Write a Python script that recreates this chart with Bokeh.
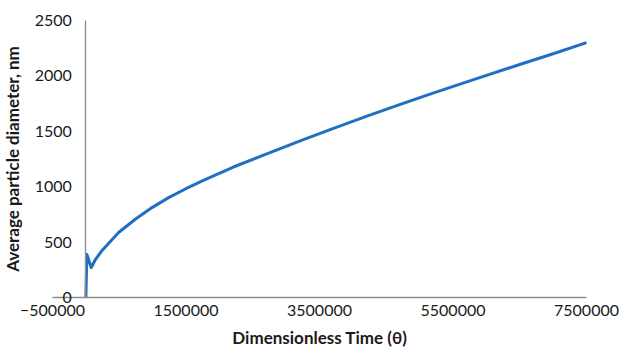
from bokeh.plotting import figure
from bokeh.models import Range1d, FixedTicker, BasicTickFormatter
from bokeh.embed import file_html
from bokeh.resources import INLINE

# Data
theta = [0, 15000, 80000, 150000, 240000, 490000, 740000, 990000, 1240000,
         1490000, 1760000, 2210000, 2710000, 3210000, 3710000, 4210000,
         4710000, 5200000, 5910000, 6500000, 7000000, 7500000]
diameter = [0, 390, 272, 350, 423, 587, 707, 812, 902,
            980, 1058, 1178, 1296, 1414, 1527, 1637,
            1743, 1844, 1987, 2103, 2200, 2300]
x_ticks = [-500000, 1500000, 3500000, 5500000, 7500000]
y_ticks = [0, 500, 1000, 1500, 2000, 2500]

p = figure(width=620, height=349, output_backend="svg", toolbar_location=None,
           x_range=Range1d(-1279000, 8009000), y_range=Range1d(-468, 2680),
           min_border_left=0, min_border_right=0, min_border_top=0,
           min_border_bottom=0)
p.outline_line_color = None
p.xgrid.visible = False
p.ygrid.visible = False
p.background_fill_color = "white"

p.line(theta, diameter, line_color="#1F70C1", line_width=3, line_join="round")

font = "Lato"
ax = p.xaxis[0]
ax.fixed_location = 0
ax.bounds = (-500000, 7500000)
ax.ticker = FixedTicker(ticks=x_ticks)
ax.formatter = BasicTickFormatter(use_scientific=False)
ax.axis_label = "Dimensionless Time (θ)"
ax.axis_label_text_font = font
ax.axis_label_text_font_style = "bold"
ax.axis_label_text_font_size = "17px"
ax.axis_label_text_color = "#1a1a1a"
ax.axis_label_standoff = 8
ax.major_label_text_font = font
ax.major_label_text_font_size = "16px"
ax.major_label_text_color = "#1a1a1a"
ax.major_label_standoff = 7
ax.major_tick_out = 0
ax.major_tick_in = 0
ax.minor_tick_out = 0
ax.minor_tick_in = 0
ax.axis_line_color = "#8c8c8c"
ax.axis_line_width = 1.3

ay = p.yaxis[0]
ay.fixed_location = 0
ay.bounds = (0, 2500)
ay.ticker = FixedTicker(ticks=y_ticks)
ay.axis_label = "Average particle diameter, nm"
ay.axis_label_text_font = font
ay.axis_label_text_font_style = "bold"
ay.axis_label_text_font_size = "17px"
ay.axis_label_text_color = "#1a1a1a"
ay.axis_label_standoff = 8
ay.major_label_text_font = font
ay.major_label_text_font_size = "16px"
ay.major_label_text_color = "#1a1a1a"
ay.major_label_standoff = 14
ay.major_tick_out = 0
ay.major_tick_in = 0
ay.minor_tick_out = 0
ay.minor_tick_in = 0
ay.axis_line_color = "#8c8c8c"
ay.axis_line_width = 1.3

open("out.html", "w").write(file_html(p, INLINE))
